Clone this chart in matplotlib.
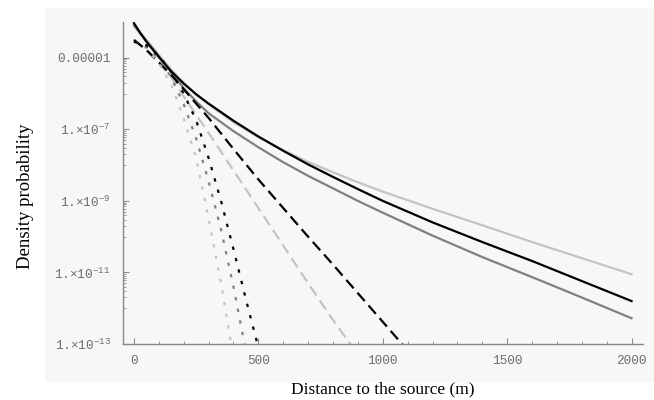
import numpy as np
import matplotlib
matplotlib.use('Agg')
import matplotlib.pyplot as plt
from matplotlib.patches import Rectangle
from matplotlib.ticker import FixedLocator, NullFormatter

# values are log10 of the density probability
x_solid = [0, 25, 50, 100, 150, 200, 250, 300, 400, 500, 600, 700, 800, 900,
           1000, 1200, 1400, 1600, 1800, 2000]
solid_black = [-4.03, -4.3, -4.55, -4.98, -5.38, -5.72, -6.02, -6.28, -6.76, -7.2,
               -7.6, -7.98, -8.33, -8.67, -9.0, -9.6, -10.15, -10.68, -11.24, -11.8]
solid_light = [-4.08, -4.28, -4.5, -4.92, -5.33, -5.7, -6.02, -6.3, -6.8, -7.22,
               -7.58, -7.91, -8.2, -8.48, -8.74, -9.22, -9.68, -10.15, -10.6, -11.05]
solid_dark = [-4.1, -4.32, -4.52, -4.95, -5.4, -5.85, -6.22, -6.55, -7.05, -7.5,
              -7.92, -8.3, -8.65, -9.0, -9.33, -9.97, -10.57, -11.13, -11.7, -12.28]

x_dash_black = [0, 50, 100, 150, 200, 300, 400, 500, 600, 700, 800, 900, 1000, 1080]
dash_black = [-4.5, -4.78, -5.12, -5.48, -5.88, -6.68, -7.55, -8.4, -9.2, -10.0,
              -10.78, -11.58, -12.38, -13.02]
x_dash_light = [0, 50, 100, 150, 200, 300, 400, 500, 600, 700, 800, 880]
dash_light = [-4.5, -4.8, -5.15, -5.55, -6.08, -7.1, -8.15, -9.2, -10.25, -11.3,
              -12.33, -13.1]

x_dot_light = [0, 50, 100, 150, 200, 250, 300, 350, 400]
dot_light = [-4.55, -4.72, -5.15, -5.75, -6.7, -7.8, -9.5, -11.3, -13.4]
x_dot_dark = [0, 50, 100, 150, 200, 250, 300, 350, 400, 450]
dot_dark = [-4.55, -4.7, -5.02, -5.55, -6.3, -7.25, -8.45, -9.8, -11.4, -13.2]
x_dot_black = [0, 50, 100, 150, 200, 250, 300, 350, 400, 450, 500]
dot_black = [-4.55, -4.65, -4.95, -5.4, -6.0, -6.75, -7.8, -9.0, -10.35, -11.75, -13.1]

x_ticks = [0, 500, 1000, 1500, 2000]
y_tick_exps = [-5, -7, -9, -11, -13]
y_tick_labels = ['0.00001', '1.×10$^{-7}$', '1.×10$^{-9}$', '1.×10$^{-11}$', '1.×10$^{-13}$']

plt.rcParams['mathtext.fontset'] = 'custom'
plt.rcParams['mathtext.rm'] = 'Liberation Mono'
plt.rcParams['mathtext.it'] = 'Liberation Mono'

bg = '#f7f7f7'
axcol = '#8a8a8a'
light = '#c4c4c4'
dark = '#808080'

fig = plt.figure(figsize=(6.54, 4.0), dpi=100, facecolor='white')
fig.patches.append(Rectangle((45 / 654, 18 / 400), 609 / 654, 374 / 400,
                             transform=fig.transFigure, facecolor=bg,
                             edgecolor='none', zorder=-5))
ax = fig.add_axes([123 / 654, 56 / 400, 520 / 654, 322 / 400])
ax.set_zorder(2)
ax.set_facecolor(bg)

lw = 1.6
ax.plot(x_solid, 10 ** np.array(solid_light), color=light, lw=lw)
ax.plot(x_solid, 10 ** np.array(solid_dark), color=dark, lw=lw)
ax.plot(x_solid, 10 ** np.array(solid_black), color='black', lw=lw)
ax.plot(x_dash_light, 10 ** np.array(dash_light), color=light, lw=lw, dashes=(5, 2.6))
ax.plot(x_dash_black, 10 ** np.array(dash_black), color='black', lw=lw, dashes=(5, 2.6))
ax.plot(x_dot_light, 10 ** np.array(dot_light), color=light, lw=lw, dashes=(1.5, 3.8))
ax.plot(x_dot_dark, 10 ** np.array(dot_dark), color=dark, lw=lw, dashes=(1.5, 3.8))
ax.plot(x_dot_black, 10 ** np.array(dot_black), color='black', lw=lw, dashes=(1.5, 3.8))

ax.set_yscale('log')
ax.set_xlim(-44, 2046)
ax.set_ylim(1e-13, 10 ** -4.0)

for s in ['top', 'right']:
    ax.spines[s].set_visible(False)
for s in ['left', 'bottom']:
    ax.spines[s].set_color(axcol)
    ax.spines[s].set_linewidth(1.0)

ax.xaxis.set_major_locator(FixedLocator(x_ticks))
ax.xaxis.set_minor_locator(FixedLocator([v for v in range(100, 2001, 100) if v % 500]))
ax.yaxis.set_major_locator(FixedLocator([10.0 ** e for e in y_tick_exps]))
ax.yaxis.set_minor_locator(FixedLocator([m * 10.0 ** (e - 1) for e in y_tick_exps[:-1]
                                         for m in range(1, 10)]))
ax.yaxis.set_minor_formatter(NullFormatter())
ax.set_yticklabels(y_tick_labels)

ax.tick_params(which='both', direction='in', color=axcol, labelcolor='#6e6e6e',
               labelsize=9.2)
ax.tick_params(which='major', length=4, width=0.8)
ax.tick_params(which='minor', length=2, width=0.6)
ax.tick_params(axis='y', pad=9)
ax.tick_params(axis='x', pad=8)
for lab in ax.get_xticklabels() + ax.get_yticklabels():
    lab.set_family('Liberation Mono')

ax.set_xlabel('Distance to the source (m)', family='Liberation Serif', fontsize=12.5,
              labelpad=10)
ax.set_ylabel('Density probability', family='Liberation Serif', fontsize=13.5)
ax.yaxis.set_label_coords(-0.172, 0.46)

fig.savefig('out.png', dpi=100, facecolor='white')
